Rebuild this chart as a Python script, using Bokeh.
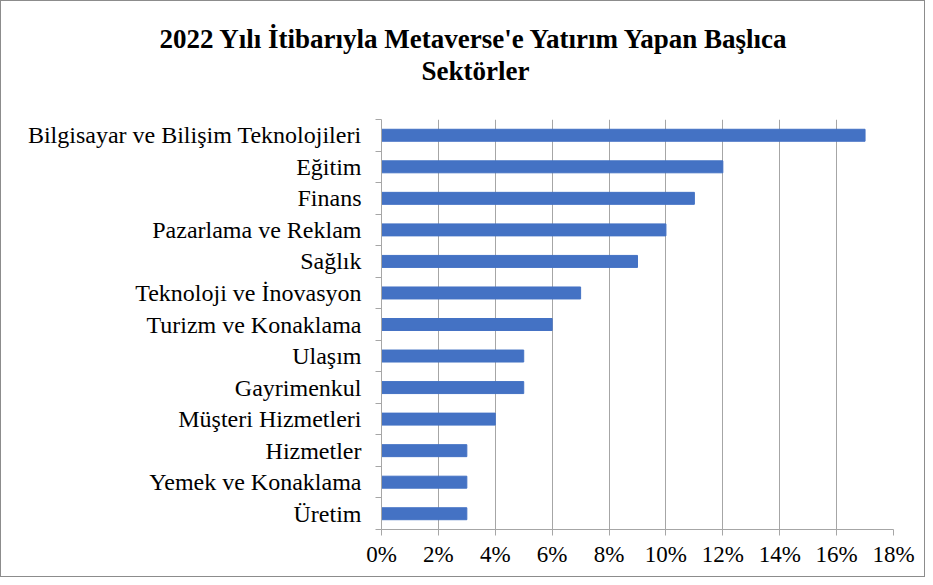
from bokeh.plotting import figure
from bokeh.models import Range1d, FixedTicker, Title, PrintfTickFormatter, ColumnDataSource
from bokeh.embed import file_html
from bokeh.resources import INLINE

categories = ["Bilgisayar ve Bilişim Teknolojileri", "Eğitim", "Finans", "Pazarlama ve Reklam",
              "Sağlık", "Teknoloji ve İnovasyon", "Turizm ve Konaklama", "Ulaşım",
              "Gayrimenkul", "Müşteri Hizmetleri", "Hizmetler", "Yemek ve Konaklama", "Üretim"]
values = [17, 12, 11, 10, 9, 7, 6, 5, 5, 4, 3, 3, 3]
x_ticks = [0, 2, 4, 6, 8, 10, 12, 14, 16, 18]
title_lines = ["2022 Yılı İtibarıyla Metaverse'e Yatırım Yapan Başlıca", "Sektörler"]

n = len(categories)
ypos = [n - i - 0.5 for i in range(n)]
src = ColumnDataSource(dict(y=ypos, v=values, cat=categories))

W, H = 925, 577
p = figure(width=W, height=H, output_backend="svg", toolbar_location=None, title=None,
           x_range=Range1d(0, 18), y_range=Range1d(0, n),
           min_border_left=380, min_border_right=W - 892, min_border_top=118, min_border_bottom=H - 528)
p.outline_line_color = None
p.styles = {"border": "1px solid #8c8c8c", "box-sizing": "border-box"}

p.hbar(y="y", right="v", left=0, height=0.38, source=src, color="#4472C4")

# x axis
p.xaxis.ticker = FixedTicker(ticks=x_ticks)
p.xaxis.formatter = PrintfTickFormatter(format="%d%%")
p.xaxis.axis_line_color = "#a6a6a6"
p.xaxis.major_tick_line_color = "#a6a6a6"
p.xaxis.major_tick_out = 6
p.xaxis.major_tick_in = 0
p.xaxis.minor_tick_line_color = None
p.xaxis.major_label_text_font = "Liberation Serif"
p.xaxis.major_label_text_font_size = "23px"
p.xaxis.major_label_text_color = "black"
p.xaxis.major_label_standoff = 6

# y axis: labels at centres, ticks at boundaries
p.yaxis.ticker = FixedTicker(ticks=ypos, minor_ticks=list(range(n + 1)))
p.yaxis.major_label_overrides = {y: c for y, c in zip(ypos, categories)}
p.yaxis.axis_line_color = "#a6a6a6"
p.yaxis.major_tick_line_color = None
p.yaxis.minor_tick_line_color = "#a6a6a6"
p.yaxis.minor_tick_out = 6
p.yaxis.minor_tick_in = 0
p.yaxis.major_label_text_font = "Liberation Serif"
p.yaxis.major_label_text_font_size = "24px"
p.yaxis.major_label_text_color = "black"
p.yaxis.major_label_standoff = 14

p.xgrid.ticker = FixedTicker(ticks=x_ticks)
p.xgrid.grid_line_color = "#a6a6a6"
p.ygrid.grid_line_color = None

title_font = "Times New Roman"
spacer = Title(text="\u00a0", standoff=21, text_font_size="10px")
t2 = Title(text=title_lines[1], align="left", offset=40, standoff=0,
           text_font=title_font, text_font_style="bold", text_font_size="27px", text_color="black")
t1 = Title(text=title_lines[0], align="left", offset=-222, standoff=0,
           text_font=title_font, text_font_style="bold", text_font_size="27px", text_color="black")
p.add_layout(spacer, "above")
p.add_layout(t2, "above")
p.add_layout(t1, "above")

open("out.html", "w").write(file_html(p, INLINE))
